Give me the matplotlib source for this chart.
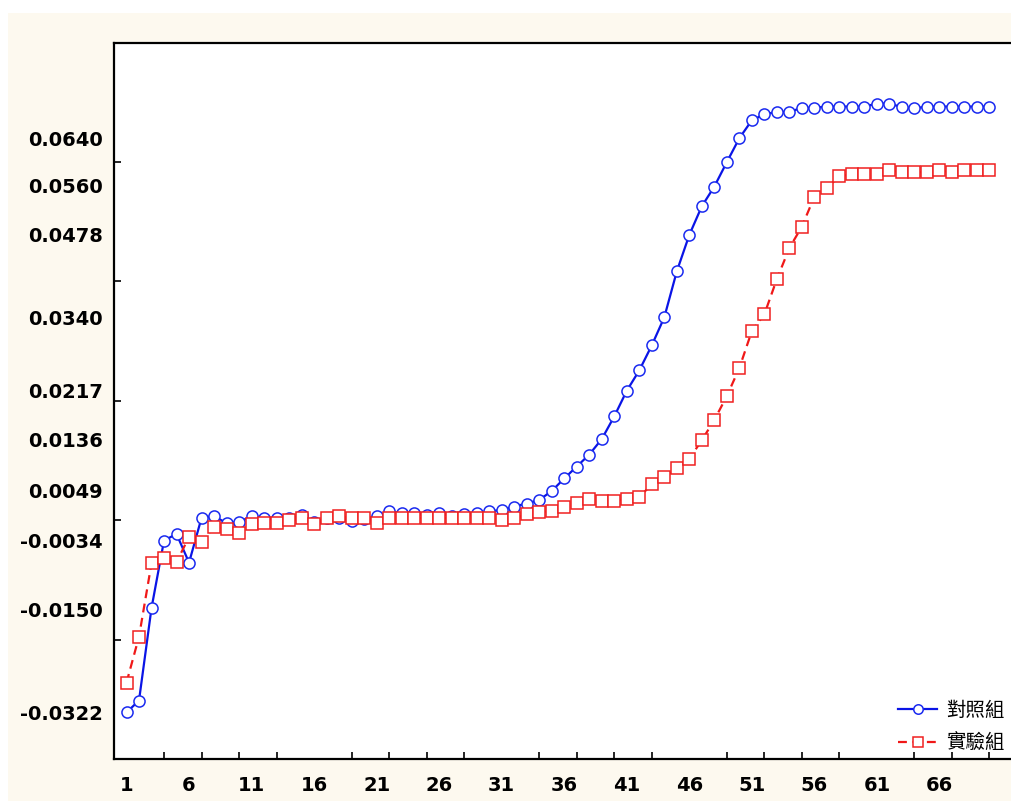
from matplotlib import pyplot as plt
from matplotlib.patches import Rectangle
import numpy as np

# donnees (70 points)
x = np.arange(1, 71)

control = [-0.0322, -0.0302, -0.0147, -0.0034, -0.0023, -0.0071, 0.0004, 0.0007, -0.0005, -0.0003,
           0.0007, 0.0004, 0.0004, 0.0004, 0.0008, -0.0003, 0.0003, 0.0004, -0.0002, 0.0002,
           0.0007, 0.0015, 0.0012, 0.0012, 0.0008, 0.0012, 0.0007, 0.0010, 0.0012, 0.0015,
           0.0017, 0.0023, 0.0028, 0.0034, 0.0049, 0.0070, 0.0090, 0.0110, 0.0136, 0.0174,
           0.0217, 0.0251, 0.0293, 0.0340, 0.0417, 0.0478, 0.0526, 0.0559, 0.0600, 0.0640,
           0.0670, 0.0680, 0.0684, 0.0684, 0.0691, 0.0691, 0.0693, 0.0693, 0.0693, 0.0693,
           0.0698, 0.0698, 0.0692, 0.0690, 0.0693, 0.0693, 0.0693, 0.0693, 0.0693, 0.0693]

experiment = [-0.0272, -0.0195, -0.0072, -0.0064, -0.0070, -0.0028, -0.0037, -0.0011, -0.0014, -0.0021,
              -0.0007, -0.0004, -0.0004, 0.0000, 0.0003, -0.0007, 0.0003, 0.0007, 0.0003, 0.0003,
              -0.0004, 0.0004, 0.0004, 0.0004, 0.0003, 0.0004, 0.0003, 0.0004, 0.0003, 0.0003,
              0.0000, 0.0003, 0.0010, 0.0013, 0.0016, 0.0022, 0.0029, 0.0036, 0.0032, 0.0032,
              0.0036, 0.0039, 0.0060, 0.0073, 0.0087, 0.0103, 0.0134, 0.0168, 0.0208, 0.0255,
              0.0317, 0.0345, 0.0404, 0.0456, 0.0492, 0.0542, 0.0557, 0.0576, 0.0580, 0.0580,
              0.0580, 0.0586, 0.0583, 0.0583, 0.0583, 0.0586, 0.0583, 0.0586, 0.0586, 0.0586]

ytick_labels = [0.0640, 0.0560, 0.0478, 0.0340, 0.0217, 0.0136, 0.0049, -0.0034, -0.0150, -0.0322]
ytick_marks = [-0.02, 0.0, 0.02, 0.04, 0.06]
xtick_labels = list(range(1, 67, 5))
xtick_marks = list(range(1, 71, 3))
labels = ["對照組", "實驗組"]

fig = plt.figure(figsize=(10.12, 8.01), dpi=100)
fond = Rectangle((8/1012, 0), 1004/1012, 788/801, transform=fig.transFigure,
                 facecolor='#fdf9ef', edgecolor='none', zorder=-10)
fig.add_artist(fond)

ax = fig.add_axes([114/1012, 1 - 759/801, 898/1012, 716.3/801])
ax.set_zorder(1)
ax.set_facecolor('white')

ax.plot(x, control, color='#0a14e6', linewidth=1.6, marker='o', markersize=8,
        markerfacecolor='white', markeredgecolor='#1a2af0', markeredgewidth=1.1, label=labels[0])
ax.plot(x, experiment, color='#f01818', linewidth=1.6, linestyle=(0, (4, 2.5)), marker='s', markersize=8.5,
        markerfacecolor='white', markeredgecolor='#f02020', markeredgewidth=1.1, label=labels[1])

ax.set_xlim(0, 71.8)
ax.set_ylim(-0.04, 0.08)

ax.set_yticks(ytick_labels)
ax.set_yticklabels(["%.4f" % v for v in ytick_labels])
ax.set_yticks(ytick_marks, minor=True)
ax.set_xticks(xtick_labels)
ax.set_xticks(xtick_marks, minor=True)

ax.tick_params(axis='both', which='major', length=0, labelsize=14)
ax.tick_params(axis='y', which='major', pad=8)
ax.tick_params(axis='x', which='major', pad=12)
ax.tick_params(axis='both', which='minor', direction='in', length=5, width=1.2)
for lab in ax.get_xticklabels() + ax.get_yticklabels():
    lab.set_fontweight('bold')
    lab.set_family('DejaVu Sans')

ax.spines['right'].set_visible(False)
for s in ['left', 'bottom', 'top']:
    ax.spines[s].set_linewidth(1.6)

leg = ax.legend(loc='lower right', bbox_to_anchor=(1.0, -0.004), frameon=False,
                prop={'family': ['Noto Sans CJK TC', 'DejaVu Sans'], 'size': 14},
                handlelength=2.0, handletextpad=0.45, labelspacing=0.62, borderaxespad=0.0,
                markerscale=0.85)

fig.savefig('out.png', dpi=100, facecolor='white')
